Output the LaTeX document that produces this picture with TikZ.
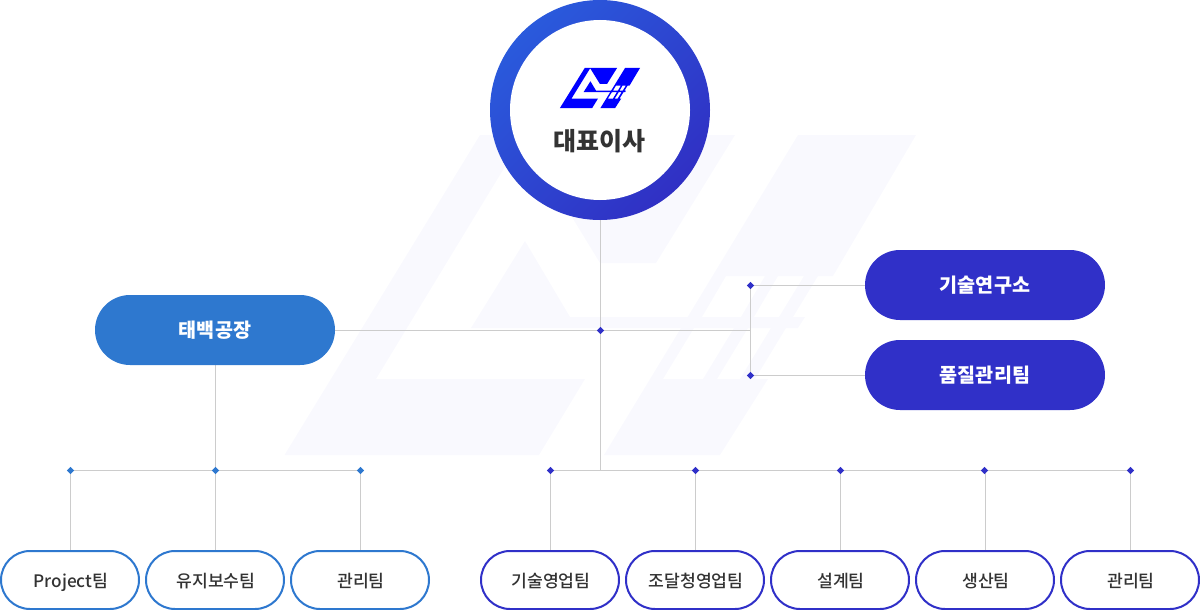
\documentclass[tikz,border=0pt]{standalone}
\usepackage{fontspec}
\setmainfont{Noto Sans CJK KR}
\newfontfamily\medfont{Noto Sans CJK KR Medium}
\usetikzlibrary{shapes.geometric,backgrounds}
\definecolor{cblue}{HTML}{2E78CF}
\definecolor{cindigo}{HTML}{3030C8}
\definecolor{cline}{HTML}{CCCCCC}
\definecolor{cfaint}{HTML}{F9F9FE}
\definecolor{clogo}{HTML}{0000FF}
\definecolor{ctext}{HTML}{333333}
\definecolor{cringa}{HTML}{2A5ADC}
\definecolor{cringb}{HTML}{3030C4}
\newcommand{\lhmark}[1]{%
  % left stroke with the V at the top
  \fill[#1] (284.5,455) -- (480,135) -- (735,135) -- (656,263) -- (600,263) -- (523,137) -- (376,379) -- (585,379) -- (539,455) -- cycle;
  % triangle with the cross bar
  \fill[#1] (471,328) -- (525,241) -- (570,317) -- (700,317) -- (700,328) -- cycle;
  % right stroke with its windows
  \fill[#1,even odd rule] (798,135) -- (916,135) -- (833,276) -- (818,276) -- (793,317) -- (805,317) -- (798,328) -- (786,328) -- (755,379) -- (768,379) -- (720,455) -- (604,455) -- cycle
    (726,276) -- (765,276) -- (741,317) -- (702,317) -- cycle
    (778,276) -- (804,276) -- (779,317) -- (754,317) -- cycle
    (694,328) -- (734,328) -- (703,379) -- (663,379) -- cycle
    (748,328) -- (771,328) -- (740,379) -- (717,379) -- cycle;
}
\tikzset{
  conn/.style={draw=cline,line width=1pt},
  jointb/.style={diamond,fill=cblue,inner sep=0pt,minimum size=7.5pt},
  jointi/.style={diamond,fill=cindigo,inner sep=0pt,minimum size=7.5pt},
  bigbox/.style={rectangle,rounded corners=35pt,minimum width=240pt,minimum height=70pt,inner sep=0pt,text=white,text height=16pt,text depth=1pt,font=\fontsize{19.6pt}{21pt}\selectfont\bfseries},
  teambox/.style={rectangle,rounded corners=29pt,minimum width=138pt,minimum height=58pt,inner sep=0pt,fill=white,line width=2pt,text=ctext,text height=15pt,text depth=1pt,font=\fontsize{17.2pt}{19pt}\medfont,execute at begin node={\hspace*{2pt}}},
}
\begin{document}
\begin{tikzpicture}[x=1pt,y=-1pt]
\useasboundingbox (0,0) rectangle (1200,610);
% ring and title
\node[circle,inner sep=0pt,minimum size=220pt,left color=cringa,right color=cringb,shading angle=45] (ceo) at (600,110) {};
\node[circle,inner sep=0pt,minimum size=180pt,fill=white] (ceoin) at (600,110) {};
\begin{scope}[shift={(560,68)},xscale=0.1268,yscale=0.125,shift={(-285,-135)}]
\lhmark{clogo}
\end{scope}
\node[text=ctext,font=\fontsize{25pt}{27pt}\selectfont\bfseries,inner sep=0pt] (ceotxt) at (599.5,140.8) {대표이사};
% big boxes
\node[bigbox,fill=cblue] (factory) at (215,330) {태백공장};
\node[bigbox,fill=cindigo] (lab) at (985,285) {기술연구소};
\node[bigbox,fill=cindigo] (qa) at (985,375) {품질관리팀};
% team boxes
\node[teambox,draw=cblue] (a1) at (70,580) {Project팀};
\node[teambox,draw=cblue] (a2) at (215,580) {유지보수팀};
\node[teambox,draw=cblue] (a3) at (360,580) {관리팀};
\node[teambox,draw=cindigo] (b1) at (550,580) {기술영업팀};
\node[teambox,draw=cindigo] (b2) at (695,580) {조달청영업팀};
\node[teambox,draw=cindigo] (b3) at (840,580) {설계팀};
\node[teambox,draw=cindigo] (b4) at (985,580) {생산팀};
\node[teambox,draw=cindigo] (b5) at (1130,580) {관리팀};
% joints
\node[jointi] (hub) at (600.5,330.5) {};
\coordinate (hubr) at (750.5,330.5);
\coordinate (busc) at (600.5,470.5);
\node[jointi] (d1) at (750.5,285.5) {};
\node[jointi] (d2) at (750.5,375.5) {};
\node[jointb] (ja1) at (70.5,470.5) {};
\node[jointb] (ja2) at (215.5,470.5) {};
\node[jointb] (ja3) at (360.5,470.5) {};
\node[jointi] (jb1) at (550.5,470.5) {};
\node[jointi] (jb2) at (695.5,470.5) {};
\node[jointi] (jb3) at (840.5,470.5) {};
\node[jointi] (jb4) at (984.5,470.5) {};
\coordinate (jb4c) at (985.5,470.5);
\node[jointi] (jb5) at (1130.5,470.5) {};
\begin{pgfonlayer}{background}
\lhmark{cfaint}
\draw[conn] (ceo.south -| hub) -- (busc);
\draw[conn] (factory.east |- hub) -- (hubr);
\draw[conn] (d1.center) -- (d2.center);
\draw[conn] (d1.center) -- (d1 -| lab.west);
\draw[conn] (d2.center) -- (d2 -| qa.west);
\draw[conn] (factory.south -| ja2) -- (ja2.center);
\draw[conn] (ja1.center) -- (ja3.center);
\draw[conn] (jb1.center) -- (jb5.center);
\draw[conn] (ja1.center) -- (ja1 |- a1.north);
\draw[conn] (ja2.center) -- (ja2 |- a2.north);
\draw[conn] (ja3.center) -- (ja3 |- a3.north);
\draw[conn] (jb1.center) -- (jb1 |- b1.north);
\draw[conn] (jb2.center) -- (jb2 |- b2.north);
\draw[conn] (jb3.center) -- (jb3 |- b3.north);
\draw[conn] (jb4c) -- (jb4c |- b4.north);
\draw[conn] (jb5.center) -- (jb5 |- b5.north);
\end{pgfonlayer}
\end{tikzpicture}
\end{document}
